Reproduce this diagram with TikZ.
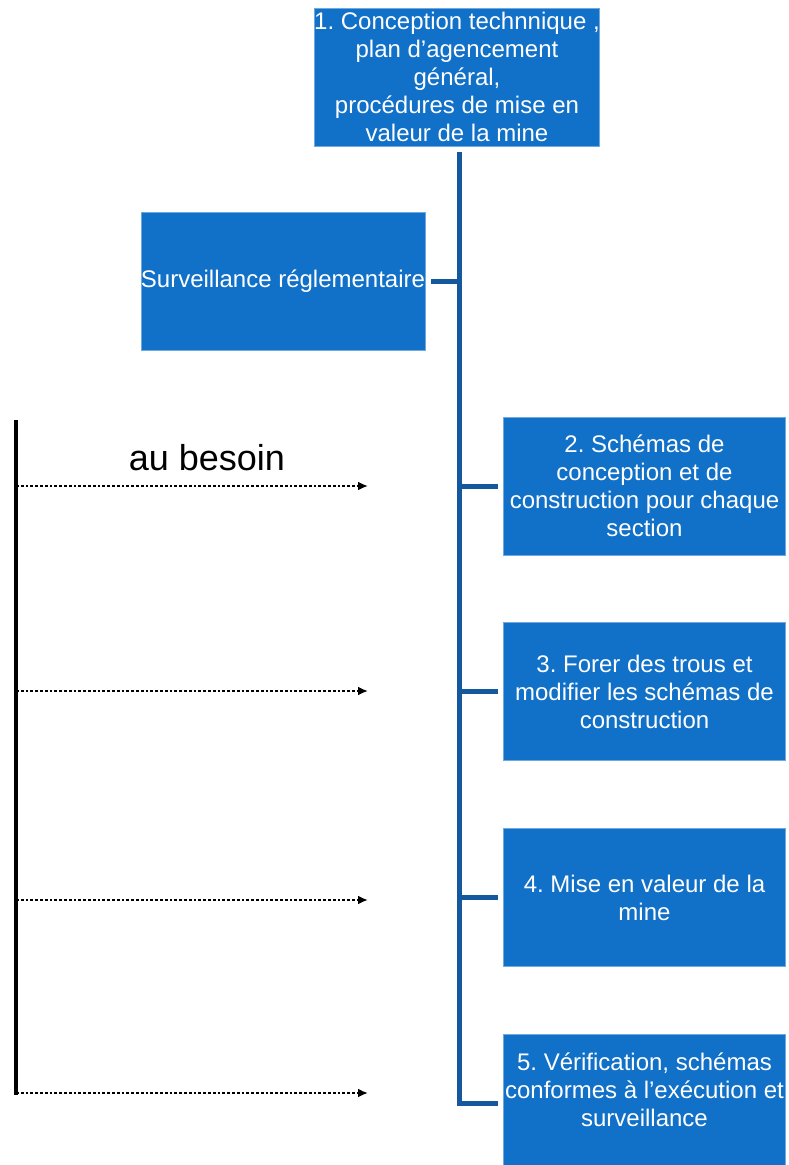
\documentclass[tikz,border=0pt]{standalone}
\usepackage{fontspec}
\setmainfont{Liberation Sans}
\usetikzlibrary{arrows.meta,positioning,calc}
\definecolor{boxblue}{RGB}{17,112,199}
\definecolor{trunkblue}{RGB}{22,88,158}
\frenchspacing

\begin{document}
\begin{tikzpicture}[x=1pt,y=1pt,
      box/.style={fill=boxblue,draw=boxblue!60!white,line width=0.8pt,text=white,minimum width=282pt,minimum height=138pt,inner sep=0pt,align=center,font=\fontsize{24}{28}\selectfont},
      trunk/.style={trunkblue,line width=5pt},
      need/.style={black,line width=2.8pt,dotted,-{Latex[length=10pt,width=9pt]}}
    ]
      \clip (0,0) rectangle (788,-1165);
      \node[box] (b1) at (457,-77) {1. Conception technnique ,\\plan d’agencement\\général,\\procédures de mise en\\valeur de la mine};
      \node[box] (surv) at (283,-281.5) {\raisebox{-5pt}{Surveillance réglementaire}};
      \node[box] (b2) at (644.5,-486) {2. Schémas de\\conception et de\\construction pour chaque\\section};
      \node[box,below=67pt of b2] (b3) {3. Forer des trous et\\modifier les schémas de\\construction};
      \node[box,below=67pt of b3] (b4) {4. Mise en valeur de la\\mine};
      \node[box,below=67pt of b4] (b5) {5. Vérification, schémas\\conformes à l’exécution et\\surveillance\\\mbox{}};
      \draw[trunk] ([shift={(2,-6)}]b1.south) |- ([xshift=-5]b5.west);
      \draw[trunk] ([xshift=2]b1.south |- surv.east) -- ([xshift=6]surv.east);
      \foreach \n in {b2,b3,b4}
        \draw[trunk] ([xshift=2]b1.south |- \n.west) -- ([xshift=-5]\n.west);
      % au besoin
      \coordinate (top) at (16,-420);
      \coordinate (bot) at (16,-1095);
      \draw[black,line width=3.2pt] (top) -- (bot);
      \node[font=\fontsize{36}{40}\selectfont] (besoin) at (207,-458) {au besoin};
      \foreach \y [count=\i] in {486,691,900,1093} {
        \coordinate (s\i) at (16,-\y);
        \coordinate (t\i) at (368,-\y);
        \draw[need] (s\i) -- (t\i);
      }
    \end{tikzpicture}
\end{document}
